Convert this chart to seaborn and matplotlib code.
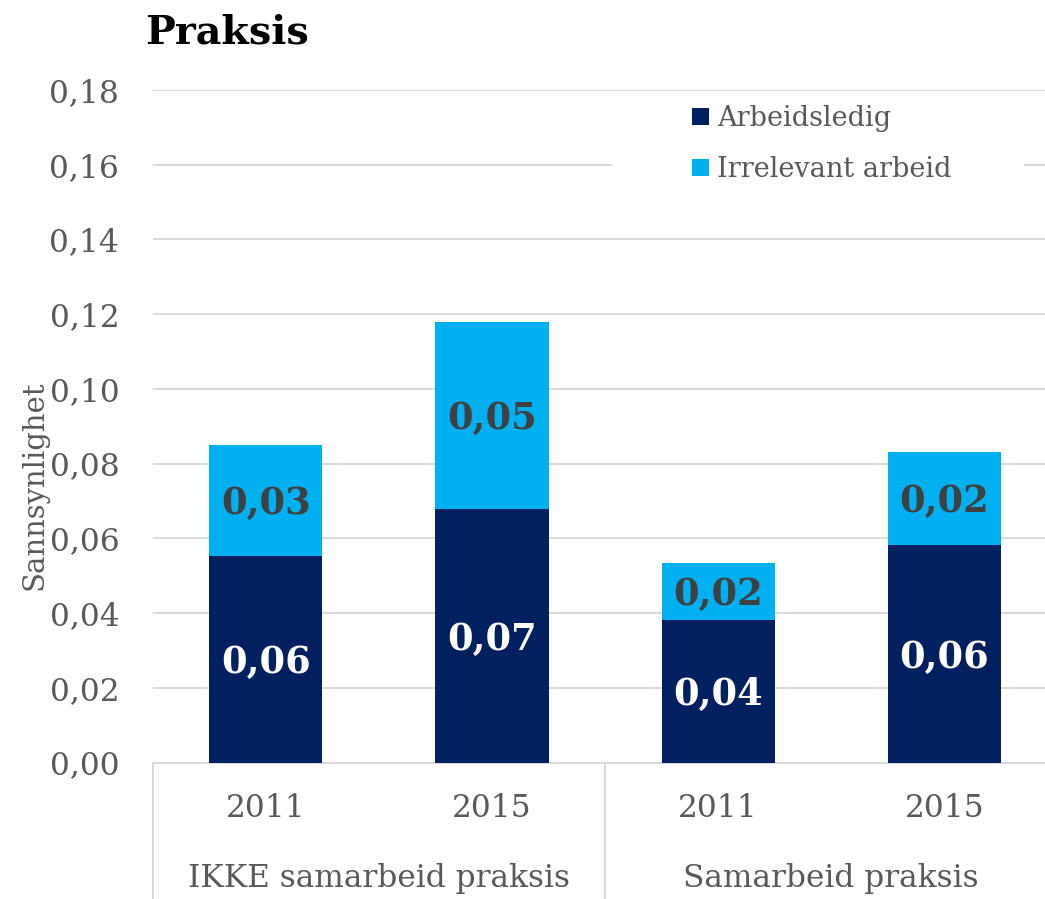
import matplotlib
matplotlib.use("Agg")
import matplotlib.pyplot as plt
from matplotlib.patches import Patch, Rectangle
import seaborn as sns
import pandas as pd

# ---- data ----
groups = ["IKKE samarbeid praksis", "IKKE samarbeid praksis", "Samarbeid praksis", "Samarbeid praksis"]
years = ["2011", "2015", "2011", "2015"]
arbeidsledig = [0.0553, 0.0679, 0.0382, 0.0583]
irrelevant = [0.0297, 0.0500, 0.0153, 0.0249]
series_names = ["Arbeidsledig", "Irrelevant arbeid"]
group_names = ["IKKE samarbeid praksis", "Samarbeid praksis"]
yticks = [0.00, 0.02, 0.04, 0.06, 0.08, 0.10, 0.12, 0.14, 0.16, 0.18]
title = "Praksis"
ylabel = "Sannsynlighet"

DARK = "#002060"
LIGHT = "#00B0F0"
GRID = "#D9D9D9"
TXT = "#595959"
LBL = "#404040"

sns.set_theme(style="white")
plt.rcParams["font.family"] = ["DejaVu Serif"]

df = pd.DataFrame({
    "key": [f"{g}|{y}" for g, y in zip(groups, years)],
    "arbeidsledig": arbeidsledig,
    "irrelevant": irrelevant,
})
df["total"] = df["arbeidsledig"] + df["irrelevant"]

fig = plt.figure(figsize=(10.45, 8.99), dpi=100)
W, H = 1045, 899
x0, x1 = 152.7, 1057.5
y0, y1 = 762.5, 90.0
ax = fig.add_axes([x0 / W, (H - y0) / H, (x1 - x0) / W, (y0 - y1) / H])

sns.barplot(data=df, x="key", y="total", color=LIGHT, saturation=1, width=0.5,
            errorbar=None, ax=ax, zorder=3)
sns.barplot(data=df, x="key", y="arbeidsledig", color=DARK, saturation=1, width=0.5,
            errorbar=None, ax=ax, zorder=3)
for p in ax.patches:
    p.set_linewidth(0)

ax.set_ylim(0, 0.18)
ax.set_xlim(-0.5, len(df) - 0.5)
ax.set_yticks(yticks)
ax.set_yticklabels([f"{v:.2f}".replace(".", ",") for v in yticks])
ax.set_xticks(range(len(df)))
ax.set_xticklabels(years)
ax.yaxis.grid(True, color=GRID, linewidth=1.4, zorder=0)
ax.set_axisbelow(True)
ax.tick_params(axis="y", length=0, pad=24, labelsize=22.5, labelcolor=TXT)
ax.tick_params(axis="x", length=0, pad=22, labelsize=22.5, labelcolor=TXT)
ax.set_xlabel("")
ax.set_ylabel("")
for s in ["left", "right", "top"]:
    ax.spines[s].set_visible(False)
ax.spines["bottom"].set_color(GRID)
ax.spines["bottom"].set_linewidth(1.4)

# value labels
for i in range(len(df)):
    a = df["arbeidsledig"][i]
    r = df["irrelevant"][i]
    ax.text(i, a / 2, f"{a:.2f}".replace(".", ","), ha="center", va="center_baseline",
            color="white", fontsize=26.5, fontweight="bold", zorder=5)
    ax.text(i, a + r / 2, f"{r:.2f}".replace(".", ","), ha="center", va="center_baseline",
            color=LBL, fontsize=26.5, fontweight="bold", zorder=5)

# group separators and labels
ybot = -(H - y0) / (y0 - y1)
for xs in [0.0, 0.5, 1.0]:
    ax.plot([xs, xs], [0, ybot], transform=ax.transAxes, color=GRID,
            linewidth=1.4, clip_on=False)
ylab_g = -(878 - y0) / (y0 - y1)
for j, g in enumerate(group_names):
    ax.text(0.25 + 0.5 * j, ylab_g, g, transform=ax.transAxes, ha="center",
            va="center", fontsize=22.5, color=TXT)

# legend area
ax.add_patch(Rectangle(((612 - x0) / (x1 - x0), (y0 - 236) / (y0 - y1)),
                       (1024 - 612) / (x1 - x0), (236 - 92) / (y0 - y1),
                       transform=ax.transAxes, facecolor="white", edgecolor="none",
                       zorder=1))
handles = [Patch(facecolor=DARK, edgecolor="none"), Patch(facecolor=LIGHT, edgecolor="none")]
leg = ax.legend(handles, series_names, loc="upper left",
                bbox_to_anchor=((692 - x0) / (x1 - x0), (y0 - 105) / (y0 - y1)),
                frameon=False, fontsize=19.5, handlelength=0.62, handleheight=0.62,
                handletextpad=0.3, labelspacing=0.88, borderpad=0, borderaxespad=0)
for t in leg.get_texts():
    t.set_color(TXT)

fig.text(35 / W, (H - 485) / H, ylabel, rotation=90, ha="center", va="center",
         fontsize=21, color=TXT)
fig.text(145 / W, (H - 43) / H, title, ha="left", va="baseline",
         fontsize=28.5, fontweight="bold", color="black")

fig.savefig("out.png", dpi=100)
